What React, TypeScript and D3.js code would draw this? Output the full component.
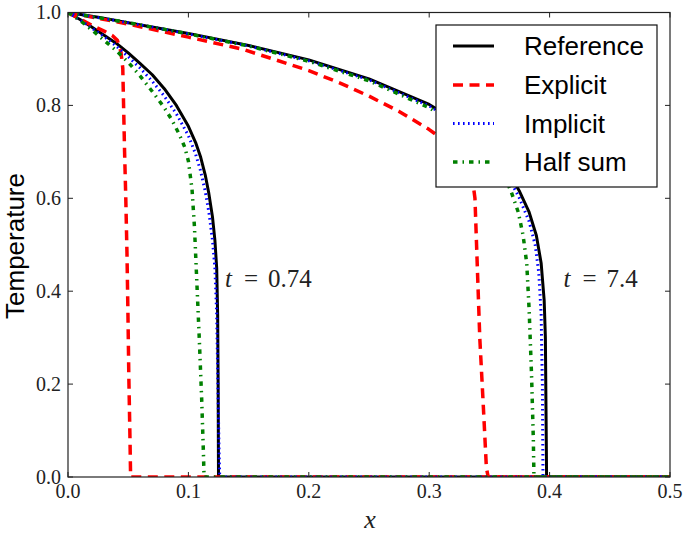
import React from "react";
import * as d3 from "d3";

type Pt = [number, number];

// t = 0.74
const referenceEarly: Pt[] = [
  [0, 1], [0.01, 0.985], [0.02, 0.968], [0.03, 0.951], [0.04, 0.934], [0.05, 0.913],
  [0.06, 0.89], [0.07, 0.866], [0.08, 0.836], [0.09, 0.8], [0.1, 0.755], [0.106, 0.72],
  [0.11, 0.69], [0.114, 0.65], [0.117, 0.61], [0.12, 0.56], [0.122, 0.51], [0.1235, 0.45],
  [0.1243, 0.35], [0.1247, 0.2], [0.125, 0], [0.5, 0],
];
const explicitEarly: Pt[] = [
  [0, 1], [0.01, 0.986], [0.02, 0.972], [0.03, 0.96], [0.037, 0.95], [0.041, 0.94],
  [0.044, 0.915], [0.0455, 0.88], [0.046, 0.82], [0.047, 0.7], [0.048, 0.6], [0.049, 0.48],
  [0.0498, 0.35], [0.0505, 0.22], [0.0515, 0.08], [0.052, 0], [0.5, 0],
];
const implicitEarly: Pt[] = [
  [0, 1], [0.01, 0.984], [0.02, 0.966], [0.03, 0.948], [0.04, 0.928], [0.05, 0.905],
  [0.06, 0.88], [0.07, 0.852], [0.08, 0.82], [0.09, 0.782], [0.1, 0.735], [0.106, 0.695],
  [0.11, 0.66], [0.114, 0.615], [0.117, 0.57], [0.12, 0.51], [0.122, 0.45], [0.1235, 0.35],
  [0.1245, 0.2], [0.1255, 0.05], [0.126, 0], [0.5, 0],
];
const halfSumEarly: Pt[] = [
  [0, 1], [0.01, 0.983], [0.02, 0.962], [0.03, 0.94], [0.04, 0.918], [0.05, 0.893],
  [0.06, 0.863], [0.07, 0.83], [0.08, 0.795], [0.086, 0.77], [0.092, 0.74], [0.097, 0.71],
  [0.1, 0.68], [0.103, 0.62], [0.105, 0.54], [0.107, 0.42], [0.109, 0.3], [0.111, 0.17],
  [0.1125, 0.05], [0.113, 0], [0.5, 0],
];

// t = 7.4
const referenceLate: Pt[] = [
  [0, 1], [0.025, 0.99], [0.05, 0.978], [0.1, 0.955], [0.15, 0.929], [0.2, 0.898],
  [0.25, 0.857], [0.3, 0.802], [0.33, 0.755], [0.35, 0.71], [0.365, 0.66], [0.375, 0.615],
  [0.383, 0.57], [0.389, 0.52], [0.393, 0.46], [0.3955, 0.38], [0.3965, 0.3], [0.397, 0.15],
  [0.3975, 0], [0.5, 0],
];
const explicitLate: Pt[] = [
  [0, 1], [0.05, 0.975], [0.1, 0.947], [0.145, 0.921], [0.2, 0.875], [0.226, 0.848],
  [0.25, 0.82], [0.275, 0.787], [0.3, 0.748], [0.315, 0.72], [0.328, 0.69], [0.335, 0.66],
  [0.338, 0.6], [0.34, 0.45], [0.342, 0.3], [0.345, 0.15], [0.3475, 0.02], [0.349, 0], [0.5, 0],
];
const implicitLate: Pt[] = [
  [0, 1], [0.05, 0.978], [0.1, 0.954], [0.15, 0.928], [0.2, 0.896], [0.25, 0.855],
  [0.3, 0.799], [0.33, 0.75], [0.35, 0.703], [0.365, 0.65], [0.375, 0.6], [0.383, 0.55],
  [0.388, 0.5], [0.391, 0.44], [0.393, 0.35], [0.394, 0.2], [0.3945, 0], [0.5, 0],
];
const halfSumLate: Pt[] = [
  [0, 1], [0.05, 0.978], [0.1, 0.954], [0.15, 0.928], [0.2, 0.895], [0.25, 0.853],
  [0.3, 0.795], [0.33, 0.745], [0.35, 0.695], [0.36, 0.66], [0.368, 0.615], [0.374, 0.57],
  [0.378, 0.52], [0.381, 0.46], [0.383, 0.36], [0.385, 0.22], [0.3865, 0.08], [0.387, 0], [0.5, 0],
];

const xTicks = [0, 0.1, 0.2, 0.3, 0.4, 0.5];
const yTicks = [0, 0.2, 0.4, 0.6, 0.8, 1.0];
const seriesNames = ["Reference", "Explicit", "Implicit", "Half sum"];
const annotations: { label: string; x: number; y: number }[] = [
  { label: "0.74", x: 0.1305, y: 0.41 },
  { label: "7.4", x: 0.4115, y: 0.41 },
];

const styles = [
  { color: "#000000", width: 3, dash: "" },
  { color: "#ff0000", width: 3.5, dash: "10,6.5" },
  { color: "#0000ff", width: 3, dash: "1.6,3.4" },
  { color: "#008000", width: 3.5, dash: "4.5,5,1.5,5" },
];

const W = 685, H = 536;
const L = 68, R = 670, T = 12.5, B = 477;

export default function App() {
  const x = d3.scaleLinear().domain([0, 0.5]).range([L, R]);
  const y = d3.scaleLinear().domain([0, 1]).range([B, T]);
  const line = d3.line<Pt>().x((d) => x(d[0])).y((d) => y(d[1]));
  const groups: Pt[][][] = [
    [referenceEarly, referenceLate],
    [explicitEarly, explicitLate],
    [implicitEarly, implicitLate],
    [halfSumEarly, halfSumLate],
  ];
  const serif = "Liberation Serif, Times New Roman, serif";
  const sans = "Liberation Sans, Arial, sans-serif";
  const legend = { x: 436, y: 25, w: 221, h: 162 };
  const rowY = [46, 85, 123.5, 162];
  return (
    <svg width={W} height={H} style={{ position: "absolute", left: 0, top: 0, background: "#fff" }}>
      <defs>
        <clipPath id="plotclip">
          <rect x={L} y={T} width={R - L} height={B - T} />
        </clipPath>
      </defs>
      <rect x={0} y={0} width={W} height={H} fill="#fff" />
      <g clipPath="url(#plotclip)">
        {groups.map((g, i) =>
          g.map((pts, j) => (
            <path
              key={`${i}-${j}`}
              d={line(pts) || ""}
              fill="none"
              stroke={styles[i].color}
              strokeWidth={styles[i].width}
              strokeDasharray={styles[i].dash || undefined}
              strokeLinejoin="round"
            />
          ))
        )}
      </g>
      <rect x={L} y={T} width={R - L} height={B - T} fill="none" stroke="#222" strokeWidth={1.2} />
      {xTicks.map((t) => (
        <g key={`xt${t}`}>
          <line x1={x(t)} x2={x(t)} y1={B} y2={B - 5} stroke="#222" strokeWidth={1} />
          <line x1={x(t)} x2={x(t)} y1={T} y2={T + 5} stroke="#222" strokeWidth={1} />
          <text x={x(t)} y={498} textAnchor="middle" style={{ fontFamily: serif }} fontSize={20} fill="#222">
            {d3.format(".1f")(t)}
          </text>
        </g>
      ))}
      {yTicks.map((t) => (
        <g key={`yt${t}`}>
          <line x1={L} x2={L + 5} y1={y(t)} y2={y(t)} stroke="#222" strokeWidth={1} />
          <line x1={R} x2={R - 5} y1={y(t)} y2={y(t)} stroke="#222" strokeWidth={1} />
          <text x={61} y={y(t) + 6.5} textAnchor="end" style={{ fontFamily: serif }} fontSize={20} fill="#222">
            {d3.format(".1f")(t)}
          </text>
        </g>
      ))}
      <text x={370} y={528} textAnchor="middle" style={{ fontFamily: serif }} fontStyle="italic" fontSize={26} fill="#222">
        x
      </text>
      <text
        transform={`translate(24,246) rotate(-90)`}
        textAnchor="middle"
        style={{ fontFamily: sans }}
        fontSize={26}
        fill="#000"
      >
        Temperature
      </text>
      {annotations.map((a) => {
        const ax = x(a.x);
        const ay = y(a.y);
        return (
          <g key={a.label} style={{ fontFamily: serif }} fontSize={25} fill="#222">
            <text x={ax} y={ay} fontStyle="italic">t</text>
            <text x={ax + 26} y={ay} textAnchor="middle">=</text>
            <text x={ax + 43} y={ay}>{a.label}</text>
          </g>
        );
      })}
      <rect x={legend.x} y={legend.y} width={legend.w} height={legend.h} fill="#fff" stroke="#111" strokeWidth={1.2} />
      {seriesNames.map((name, i) => (
        <g key={name}>
          <line
            x1={453}
            x2={494}
            y1={rowY[i]}
            y2={rowY[i]}
            stroke={styles[i].color}
            strokeWidth={styles[i].width}
            strokeDasharray={styles[i].dash || undefined}
          />
          <text x={524} y={rowY[i] + 9} style={{ fontFamily: sans }} fontSize={26} fill="#000">
            {name}
          </text>
        </g>
      ))}
    </svg>
  );
}
